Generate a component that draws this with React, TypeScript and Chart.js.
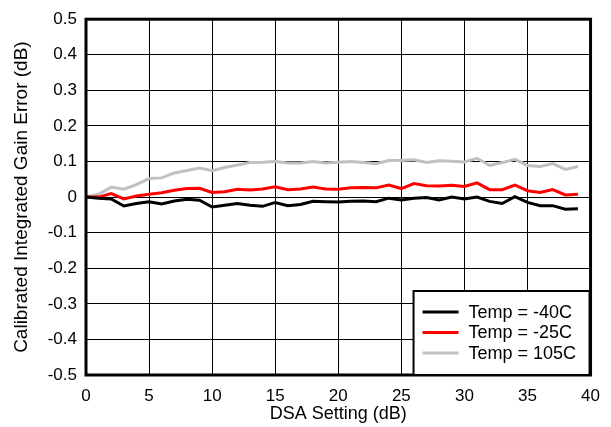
import React, { useEffect, useRef } from "react";
import { Chart, registerables } from "chart.js";

Chart.register(...registerables);

const dsaSetting = Array.from({ length: 40 }, (_, i) => i);

const tempMinus40 = [
  0, -0.003, -0.005, -0.025, -0.018, -0.013, -0.019, -0.011, -0.006, -0.009,
  -0.028, -0.023, -0.018, -0.023, -0.026, -0.015, -0.024, -0.021, -0.012, -0.013,
  -0.014, -0.012, -0.011, -0.013, -0.003, -0.008, -0.003, -0.001, -0.008, 0,
  -0.005, 0, -0.012, -0.018, 0.001, -0.015, -0.024, -0.024, -0.034, -0.033,
];

const tempMinus25 = [
  0, 0, 0.01, -0.005, 0.003, 0.008, 0.012, 0.019, 0.024, 0.025,
  0.013, 0.015, 0.022, 0.02, 0.023, 0.029, 0.021, 0.023, 0.028, 0.023,
  0.022, 0.026, 0.027, 0.026, 0.034, 0.024, 0.038, 0.032, 0.031, 0.033,
  0.03, 0.04, 0.021, 0.021, 0.034, 0.018, 0.013, 0.021, 0.006, 0.008,
];

const temp105 = [
  0, 0.008, 0.028, 0.022, 0.035, 0.052, 0.054, 0.068, 0.075, 0.082,
  0.074, 0.083, 0.09, 0.097, 0.098, 0.1, 0.096, 0.096, 0.1, 0.096,
  0.098, 0.1, 0.097, 0.094, 0.103, 0.103, 0.105, 0.097, 0.102, 0.101,
  0.099, 0.109, 0.089, 0.097, 0.106, 0.089, 0.086, 0.094, 0.078, 0.086,
];

const seriesLabels = ["Temp = -40C", "Temp = -25C", "Temp = 105C"];
const seriesColors = ["#000000", "#ff0000", "#c0c0c0"];

const xTitle = "DSA Setting (dB)";
const yTitle = "Calibrated Integrated Gain Error (dB)";

const FONT = "'Liberation Sans', Arial, sans-serif";

const frameAndLegend = {
  id: "frameAndLegend",
  afterDatasetsDraw(chart: any) {
    const { ctx, chartArea } = chart;
    ctx.save();
    // frame
    ctx.strokeStyle = "#000";
    ctx.lineWidth = 3;
    ctx.strokeRect(chartArea.left, chartArea.top, chartArea.right - chartArea.left, chartArea.bottom - chartArea.top);
    // legend
    const w = 176;
    const h = 84;
    const lx = chartArea.right - 177;
    const ly = chartArea.bottom - h;
    ctx.fillStyle = "#fff";
    ctx.fillRect(lx, ly, w, h);
    ctx.lineWidth = 2;
    ctx.strokeStyle = "#000";
    ctx.strokeRect(lx, ly, w, h);
    ctx.font = `18px ${FONT}`;
    ctx.textBaseline = "middle";
    ctx.textAlign = "left";
    for (let i = 0; i < seriesLabels.length; i++) {
      const y = ly + 21 + i * 20.5;
      ctx.strokeStyle = seriesColors[i];
      ctx.lineWidth = 3;
      ctx.beginPath();
      ctx.moveTo(lx + 9, y);
      ctx.lineTo(lx + 45, y);
      ctx.stroke();
      ctx.fillStyle = "#000";
      ctx.fillText(seriesLabels[i], lx + 55, y + 1);
    }
    ctx.restore();
  },
};

export default function App() {
  const canvasRef = useRef<HTMLCanvasElement | null>(null);

  useEffect(() => {
    document.body.style.margin = "0";
    const canvas = canvasRef.current;
    if (!canvas) return;
    const data = [tempMinus40, tempMinus25, temp105];
    const chart = new Chart(canvas, {
      type: "line",
      data: {
        datasets: data.map((vals, i) => ({
          label: seriesLabels[i],
          data: vals.map((v, j) => ({ x: dsaSetting[j], y: v })),
          borderColor: seriesColors[i],
          backgroundColor: seriesColors[i],
          borderWidth: 3,
          pointRadius: 0,
          tension: 0,
          fill: false,
        })),
      },
      options: {
        animation: false,
        responsive: false,
        devicePixelRatio: 1,
        layout: { padding: { top: 15, right: 17, left: 0, bottom: 0 } },
        plugins: {
          legend: { display: false },
          tooltip: { enabled: false },
        },
        scales: {
          x: {
            type: "linear",
            min: 0,
            max: 40,
            afterFit: (s: any) => {
              s.height = 52;
            },
            ticks: {
              stepSize: 5,
              padding: 11,
              color: "#000",
              font: { family: FONT, size: 17 },
            },
            grid: { color: "#000", lineWidth: 1, drawTicks: false },
            border: { display: false },
            title: {
              display: true,
              text: xTitle,
              color: "#000",
              font: { family: FONT, size: 18 },
              padding: { top: 0, bottom: 2 },
            },
          },
          y: {
            type: "linear",
            min: -0.5,
            max: 0.5,
            afterFit: (s: any) => {
              s.width = 86;
            },
            ticks: {
              stepSize: 0.1,
              padding: 9,
              color: "#000",
              font: { family: FONT, size: 17 },
              callback: (v: any) => (Math.abs(Number(v)) < 1e-9 ? "0" : Number(v).toFixed(1)),
            },
            grid: { color: "#000", lineWidth: 1, drawTicks: false },
            border: { display: false },
            title: {
              display: true,
              text: yTitle,
              color: "#000",
              font: { family: FONT, size: 19 },
              padding: { top: 10, bottom: 0 },
            },
          },
        },
      },
      plugins: [frameAndLegend],
    });
    return () => chart.destroy();
  }, []);

  return (
    <div style={{ position: "fixed", left: 0, top: 0, width: 611, height: 427, background: "#fff" }}>
      <canvas ref={canvasRef} width={611} height={427} />
    </div>
  );
}
